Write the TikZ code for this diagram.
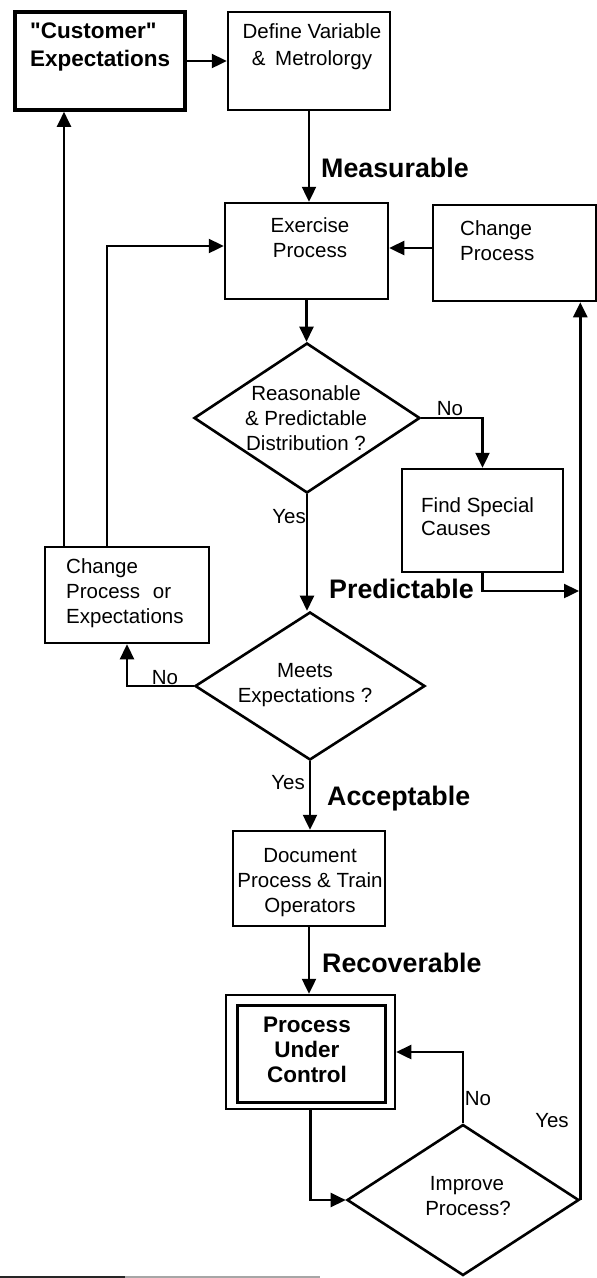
\documentclass[tikz,border=0pt]{standalone}
\usepackage{fontspec}
\setmainfont{Liberation Sans}
\newfontfamily\rawsans{Liberation Sans}
\usetikzlibrary{arrows.meta,shapes.geometric}
\tikzset{
  box/.style={draw, line width=2.5pt, inner sep=0pt},
  dia/.style={draw, diamond, line width=2.6pt, inner sep=0pt},
  arr/.style={line width=2.4pt, -{Triangle[length=15pt,width=14pt]}},
  txt/.style={inner sep=0pt, font=\fontsize{20.5}{24.5}\selectfont},
  btxt/.style={inner sep=0pt, font=\fontsize{22.5}{26}\selectfont\bfseries},
  lbl/.style={inner sep=0pt, font=\fontsize{26.8}{30}\selectfont\bfseries},
}
\begin{document}
\begin{tikzpicture}[x=1pt,y=-1pt]
\useasboundingbox (0,0) rectangle (597,1278);
\fill[white] (0,0) rectangle (597,1278);
% boxes
\node[box, line width=3.6pt, minimum width=170pt, minimum height=98pt] (cust) at (100,61) {};
\node[box, minimum width=162pt, minimum height=98pt] (def) at (309,61) {};
\node[box, minimum width=163pt, minimum height=96pt] (exer) at (306.5,251) {};
\node[box, minimum width=163pt, minimum height=96pt] (chg) at (514.5,253) {};
\node[box, minimum width=161pt, minimum height=103pt] (find) at (482.5,520.5) {};
\node[box, minimum width=164pt, minimum height=96pt] (cpe) at (127,595) {};
\node[box, minimum width=152pt, minimum height=95pt] (doc) at (309,878.5) {};
\node[box, minimum width=169pt, minimum height=114pt] (pucout) at (310.5,1052) {};
\node[box, line width=3pt, minimum width=148pt, minimum height=97pt] (pucin) at (311,1053.5) {};
% diamonds
\node[dia, minimum width=226pt, minimum height=150pt] (d1) at (307,418) {};
\node[dia, minimum width=230pt, minimum height=148pt] (d2) at (310,686) {};
\node[dia, minimum width=232pt, minimum height=151pt] (d3) at (463,1200) {};
% helper coordinates
\coordinate (pj) at (579,591);
\coordinate (c1) at (64,600);
\coordinate (c2) at (107,246);
% texts
\node[btxt, anchor=base west] (t1a) at (30,38.5) {\rawsans\bfseries "Customer"};
\node[btxt, anchor=base west] (t1b) at (30,66) {Expectations};
\node[txt, anchor=base] (t2a) at (312,38) {Define Variable};
\node[txt, anchor=base] (t2b) at (312,65) {\&\hspace{4pt} Metrolorgy};
\node[lbl, anchor=base west] (lm) at (321,177) {Measurable};
\node[txt, anchor=base] (t3a) at (310,232) {Exercise};
\node[txt, anchor=base] (t3b) at (310,257) {Process};
\node[txt, anchor=base west] (t4a) at (460,235) {Change};
\node[txt, anchor=base west] (t4b) at (460,260) {Process};
\node[txt, anchor=base] (t5a) at (306,400) {Reasonable};
\node[txt, anchor=base] (t5b) at (306,425) {\& Predictable};
\node[txt, anchor=base] (t5c) at (306,450) {Distribution ?};
\node[txt, anchor=base] (n1) at (450,415) {No};
\node[txt, anchor=base west] (t6a) at (421,512) {Find Special};
\node[txt, anchor=base west] (t6b) at (421,535) {Causes};
\node[lbl, anchor=base west] (lp) at (329,598) {Predictable};
\node[txt, anchor=base west] (t7a) at (66,573) {Change};
\node[txt, anchor=base west] (t7b) at (66,598) {Process\hspace{7pt} or};
\node[txt, anchor=base west] (t7c) at (66,623) {Expectations};
\node[txt, anchor=base east] (y1) at (306,523) {Yes};
\node[txt, anchor=base] (t8a) at (305,677) {Meets};
\node[txt, anchor=base] (t8b) at (305,702) {Expectations ?};
\node[txt, anchor=base] (n2) at (165,684) {No};
\node[txt, anchor=base east] (y2) at (305,789) {Yes};
\node[lbl, anchor=base west] (la) at (327,805) {Acceptable};
\node[txt, anchor=base] (t9a) at (310,862) {Document};
\node[txt, anchor=base] (t9b) at (310,887) {Process \& Train};
\node[txt, anchor=base] (t9c) at (310,912) {Operators};
\node[lbl, anchor=base west] (lr) at (322,972) {Recoverable};
\node[btxt, anchor=base] (t10a) at (307,1032) {Process};
\node[btxt, anchor=base] (t10b) at (307,1057) {Under};
\node[btxt, anchor=base] (t10c) at (307,1082) {Control};
\node[txt, anchor=base] (n3) at (478,1105) {No};
\node[txt, anchor=base] (y3) at (552,1127) {Yes};
\node[txt, anchor=base] (t11a) at (467,1190) {Improve};
\node[txt, anchor=base] (t11b) at (468,1215) {Process?};
% connectors
\draw[arr] (cust.east) -- (def.west);
\draw[arr] (def.south) -- (def.south |- exer.north);
\draw[arr] ([yshift=5pt]chg.west) -- ([yshift=3pt]exer.east);
\draw[arr] (exer.south) -- (exer.south |- d1.north);
\draw[arr] (d1.east) -| (find.north);
\draw[arr] (find.south) |- (pj);
\draw[arr] (d3.east) -- (d3.east |- chg.south);
\draw[arr] (d1.south) -- (d1.south |- d2.north);
\draw[arr] (d2.west) -| (cpe.south);
\draw[arr] (cpe.north -| c1) -- (cust.south -| c1);
\draw[arr] (cpe.north -| c2) -- (c2) -- (c2 -| exer.west);
\draw[arr] (d2.south) -- (d2.south |- doc.north);
\draw[arr] (doc.south) -- (doc.south |- pucout.north);
\draw[arr] (pucout.south) |- (d3.west);
\draw[arr] (d3.north) -- (d3.north |- pucout.east) -- (pucout.east);
% scan edge line at the bottom
\draw[line width=1.5pt, black!85] (0,1277) -- (125,1277);
\draw[line width=1.2pt, black!35] (125,1277) -- (320,1277);
\end{tikzpicture}
\end{document}
